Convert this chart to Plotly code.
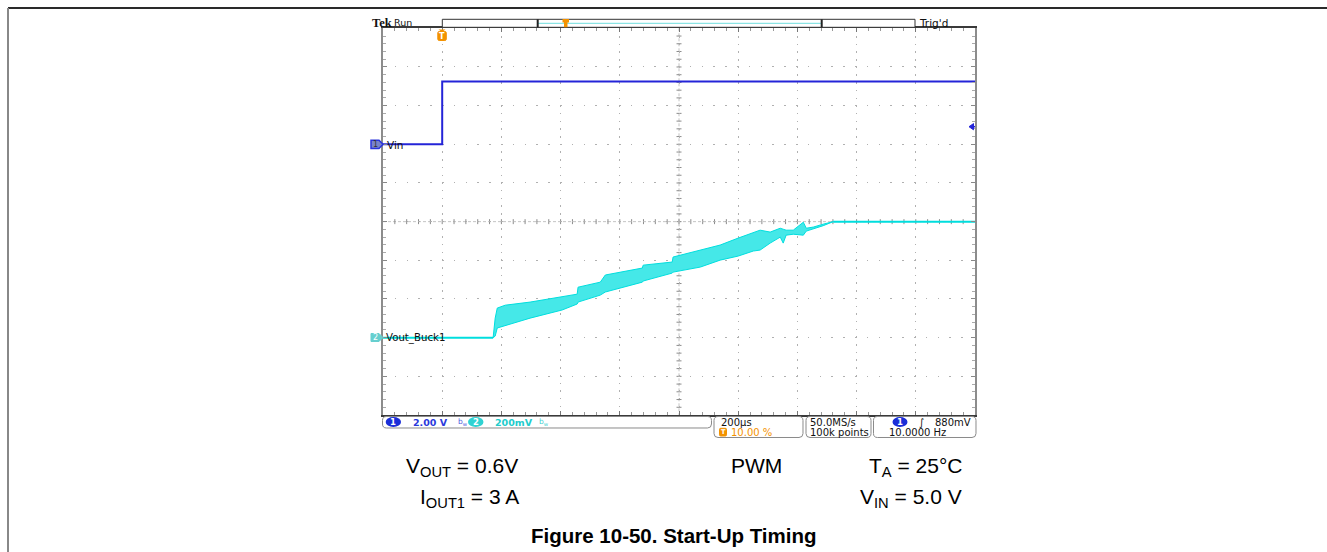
import plotly.graph_objects as go

W, H = 1327, 552

# ---------------- data (oscilloscope settings & traces) ----------------
time_per_div_us = 200          # 200 µs/div, trigger at 10 %
ch1_volts_per_div = 2.0        # Vin
ch2_volts_per_div = 0.2        # Vout_Buck1
ch1_position_div = 2.0
ch2_position_div = -3.0
x_range_us = [-200, 1800]

vin_t = [-200, 0, 0, 1800]
vin_v = [0.0, 0.0, 3.25, 3.25]

vout_pre_t = [-200, 172]
vout_pre_v = [0.0, 0.0]
vout_post_t = [1321, 1800]
vout_post_v = [0.600, 0.600]

band_t = [172, 179, 186, 213, 297, 405, 456, 459, 534, 551, 676, 679, 777, 780,
          872, 939, 1000, 1051, 1074, 1108, 1142, 1152, 1162, 1186, 1220, 1230,
          1254, 1287, 1321]
band_hi = [0.0, 0.101, 0.153, 0.168, 0.184, 0.210, 0.225, 0.261, 0.287, 0.324,
           0.360, 0.375, 0.391, 0.417, 0.453, 0.479, 0.515, 0.541, 0.556, 0.546,
           0.566, 0.561, 0.556, 0.556, 0.597, 0.566, 0.572, 0.587, 0.600]
band_lo = [0.0, 0.008, 0.050, 0.060, 0.101, 0.143, 0.174, 0.184, 0.220, 0.236,
           0.287, 0.293, 0.334, 0.339, 0.365, 0.401, 0.422, 0.448, 0.453, 0.489,
           0.520, 0.489, 0.530, 0.535, 0.530, 0.551, 0.561, 0.579, 0.600]

# ---------------- styling ----------------
BLUE = "#2424d8"
CYAN = "#00dede"
ORANGE = "#f39200"
GRID = "#b0b0b0"
SCOPE_FONT = "DejaVu Sans"
DOC_FONT = "Liberation Sans"

# plot area in pixels
PX_L, PX_R, PX_T, PX_B = 383, 975, 28.3, 415
xdom = [PX_L / W, PX_R / W]
ydom = [1 - PX_B / H, 1 - PX_T / H]

def div_range(pos, vpd):
    return [(-5 - pos) * vpd, (5 - pos) * vpd]

ch1_range = div_range(ch1_position_div, ch1_volts_per_div)
ch2_range = div_range(ch2_position_div, ch2_volts_per_div)

fig = go.Figure()
fig.add_trace(go.Scatter(x=vin_t, y=vin_v, mode="lines",
                         line=dict(color=BLUE, width=2), yaxis="y",
                         hoverinfo="skip", showlegend=False))
fig.add_trace(go.Scatter(x=band_t + band_t[::-1], y=band_hi + band_lo[::-1],
                         mode="lines", fill="toself", fillcolor="#45e8e8",
                         line=dict(color=CYAN, width=1), yaxis="y2",
                         hoverinfo="skip", showlegend=False))
fig.add_trace(go.Scatter(x=vout_pre_t, y=vout_pre_v, mode="lines",
                         line=dict(color=CYAN, width=2), yaxis="y2",
                         hoverinfo="skip", showlegend=False))
fig.add_trace(go.Scatter(x=vout_post_t, y=vout_post_v, mode="lines",
                         line=dict(color=CYAN, width=2), yaxis="y2",
                         hoverinfo="skip", showlegend=False))

dx_minor = time_per_div_us / 5
dy_minor = ch1_volts_per_div / 5

common_off = dict(showticklabels=False, zeroline=False, fixedrange=True)

fig.update_layout(
    width=W, height=H,
    margin=dict(l=0, r=0, t=0, b=0),
    paper_bgcolor="white", plot_bgcolor="white",
    showlegend=False,
    xaxis=dict(domain=xdom, range=x_range_us, dtick=time_per_div_us, tick0=x_range_us[0],
               showgrid=True, gridcolor=GRID, gridwidth=1, griddash="1.5px,6.2px",
               showline=True, linecolor="#3a3a3a", linewidth=2, mirror="ticks",
               ticks="inside", ticklen=4, tickcolor="#777",
               minor=dict(dtick=dx_minor, ticks="inside", ticklen=3, tickcolor="#999", showgrid=False),
               anchor="y", **common_off),
    yaxis=dict(domain=ydom, range=ch1_range, dtick=ch1_volts_per_div, tick0=0,
               showgrid=True, gridcolor=GRID, gridwidth=1, griddash="1.5px,10.3px",
               showline=True, linecolor="#8c8c8c", linewidth=2, mirror="ticks",
               ticks="inside", ticklen=4, tickcolor="#888",
               minor=dict(dtick=dy_minor, ticks="inside", ticklen=3, tickcolor="#aaa", showgrid=False),
               anchor="x", **common_off),
    yaxis2=dict(range=ch2_range, overlaying="y", visible=False, anchor="x", **common_off),
)

# ---------------- helpers (pixel -> paper) ----------------
def px(x):
    return x / W

def py(y):
    return 1 - y / H

shapes = []
annotations = []

def rect(x0, y0, x1, y1, line_color="#333", line_width=1, fill="rgba(0,0,0,0)"):
    shapes.append(dict(type="rect", xref="paper", yref="paper", layer="above",
                       x0=px(x0), x1=px(x1), y0=py(y1), y1=py(y0),
                       line=dict(color=line_color, width=line_width), fillcolor=fill))

def line(x0, y0, x1, y1, color, width=1, layer="above", dash=None):
    ln = dict(color=color, width=width)
    if dash:
        ln["dash"] = dash
    shapes.append(dict(type="line", xref="paper", yref="paper", layer=layer,
                       x0=px(x0), x1=px(x1), y0=py(y0), y1=py(y1), line=ln))

def path(points, fill, line_color, line_width=1):
    d = "M" + " L".join(f"{px(a):.5f},{py(b):.5f}" for a, b in points) + " Z"
    shapes.append(dict(type="path", xref="paper", yref="paper", layer="above", path=d,
                       fillcolor=fill, line=dict(color=line_color, width=line_width)))

def rrect(x0, y0, x1, y1, r, line_color="#8a8a8a", fill="white", width=1):
    def P(a, b):
        return f"{px(a):.5f},{py(b):.5f}"
    d = (f"M{P(x0 + r, y0)} L{P(x1 - r, y0)} Q{P(x1, y0)} {P(x1, y0 + r)} "
         f"L{P(x1, y1 - r)} Q{P(x1, y1)} {P(x1 - r, y1)} L{P(x0 + r, y1)} "
         f"Q{P(x0, y1)} {P(x0, y1 - r)} L{P(x0, y0 + r)} Q{P(x0, y0)} {P(x0 + r, y0)} Z")
    shapes.append(dict(type="path", xref="paper", yref="paper", layer="above", path=d,
                       fillcolor=fill, line=dict(color=line_color, width=width)))

def ellipse(x0, y0, x1, y1, fill):
    shapes.append(dict(type="circle", xref="paper", yref="paper", layer="above",
                       x0=px(x0), x1=px(x1), y0=py(y1), y1=py(y0),
                       fillcolor=fill, line=dict(color=fill, width=0)))

def text(s, x, y, size, color="#1a1a1a", anchor="left", family=SCOPE_FONT, yanchor="middle"):
    annotations.append(dict(text=s, x=px(x), y=py(y), xref="paper", yref="paper",
                            xanchor=anchor, yanchor=yanchor, showarrow=False,
                            font=dict(family=family, size=size, color=color)))

# outer document frame
line(8, 8, W, 8, "#2a2a2a", 2)
line(8, 8, 8, H, "#888888", 2)

# ---------------- graticule centre cross with minor ticks ----------------
cx = (PX_L + PX_R) / 2
cy = (PX_T + PX_B) / 2
line(PX_L, cy, PX_R, cy, "#c4c4c4", 1, layer="below", dash="3px,2px")
line(cx, PX_T, cx, PX_B, "#c4c4c4", 1, layer="below", dash="3px,2px")
for i in range(1, 50):
    xx = PX_L + i * (PX_R - PX_L) / 50
    line(xx, cy - 2.5, xx, cy + 2.5, "#8c8c8c", 1, layer="below")
for i in range(1, 50):
    yy = PX_T + i * (PX_B - PX_T) / 50
    line(cx - 2.5, yy, cx + 2.5, yy, "#8c8c8c", 1, layer="below")

# ---------------- top status / record bar ----------------
text("<b>Tek</b>", 370, 22.5, 12.5, "#111", family="Liberation Serif")
text("Run", 392, 22.5, 9.5, "#111")
rect(442.3, 19.3, 915, 27.3, "#333", 1, "white")
line(538, 23.3, 821.7, 23.3, "#6fdede", 1)
line(537.7, 19.3, 537.7, 27.3, "#222", 2)
line(821.7, 19.3, 821.7, 27.3, "#222", 2)
# record-position marker
rect(564, 22, 567.5, 27.3, ORANGE, 0, ORANGE)
rect(562.5, 19, 569, 22.5, ORANGE, 0, ORANGE)
text("Trig'd", 917, 22.5, 10.5, "#111")

# trigger position marker
path([(438.5, 29.5), (445.5, 29.5), (442, 32)], ORANGE, ORANGE, 0)
rrect(437.8, 31.5, 446.3, 40.5, 1.5, ORANGE, ORANGE)
text("<b>T</b>", 442.1, 36.3, 8, "white", anchor="center")

# channel ground markers
path([(371, 140.2), (379, 140.2), (383, 144.3), (379, 148.4), (371, 148.4)], "#7a84c8", "#2a34dc", 1.5)
text("1", 375.6, 144.5, 8, "#333", anchor="center")
text("Vin", 384.5, 144.5, 10.5, "#111")

path([(371, 333.5), (379, 333.5), (383, 337.5), (379, 341.5), (371, 341.5)], "#66cfcf", "#66cfcf", 1)
text("2", 375.6, 337.7, 8, "white", anchor="center")
text("Vout_Buck1", 384, 337.7, 10.2, "#111")

# trigger level marker (right edge)
path([(969, 126.7), (973.5, 123.6), (973.5, 129.8)], BLUE, BLUE, 1)
line(972, 126.7, 975, 126.7, BLUE, 1.5)

# ---------------- bottom status boxes ----------------
rrect(382.5, 416.5, 711.5, 428, 4)
ellipse(385.7, 417, 401, 427, "#1a2ed8")
text("<b>1</b>", 393.4, 422.3, 8.5, "white", anchor="center")
text("<b>2.00 V</b>", 410.5, 422.3, 9.5, "#2a3adc")
text("b<sub>w</sub>", 456, 421.5, 7.5, "#4a5adc")
ellipse(468, 417, 483.5, 427, "#2fd2d2")
text("<b>2</b>", 475.8, 422.3, 8.5, "white", anchor="center")
text("<b>200mV</b>", 492.5, 422.3, 9.5, "#22cccc")
text("b<sub>w</sub>", 537, 421.5, 7.5, "#40d0d0")

rrect(714, 416.5, 803, 437.5, 4)
text("200µs", 718.5, 422.5, 10, "#111")
rrect(719.5, 428.3, 726.5, 436, 1.2, ORANGE, ORANGE)
text("<b>T</b>", 723, 432.3, 6.5, "white", anchor="center")
text("10.00 %", 728.5, 432.3, 10, ORANGE)

rrect(806, 416.5, 871, 437.5, 4)
text("50.0MS/s", 807.5, 422.5, 10, "#111")
text("100k points", 807.5, 432.3, 10, "#111")

rrect(873.5, 416.5, 976, 437.5, 4)
ellipse(892.5, 417, 907.5, 427, "#1a2ed8")
text("<b>1</b>", 900, 422.3, 8.5, "white", anchor="center")
text("<i>∫</i>", 921, 422.3, 10, "#111", anchor="center")
text("880mV", 972.5, 422.5, 10, "#111", anchor="right")
text("10.0000 Hz", 886.5, 432.3, 10, "#111")

# ---------------- document captions ----------------
text("V<sub>OUT</sub> = 0.6V", 404, 467, 21, "#000", family=DOC_FONT)
text("PWM", 756.5, 465, 21, "#000", anchor="center", family=DOC_FONT)
text("T<sub>A</sub> = 25°C", 963.5, 467, 21, "#000", anchor="right", family=DOC_FONT)
text("I<sub>OUT1</sub> = 3 A", 418, 498, 21, "#000", family=DOC_FONT)
text("V<sub>IN</sub> = 5.0 V", 963.5, 498, 21, "#000", anchor="right", family=DOC_FONT)
text("<b>Figure 10-50. Start-Up Timing</b>", 674, 535, 20.5, "#000", anchor="center", family=DOC_FONT)

fig.update_layout(shapes=shapes, annotations=annotations)
fig.write_html("out.html", config={"displayModeBar": False, "staticPlot": True},
               post_script="document.body.style.margin='0';document.body.style.overflow='hidden';")
